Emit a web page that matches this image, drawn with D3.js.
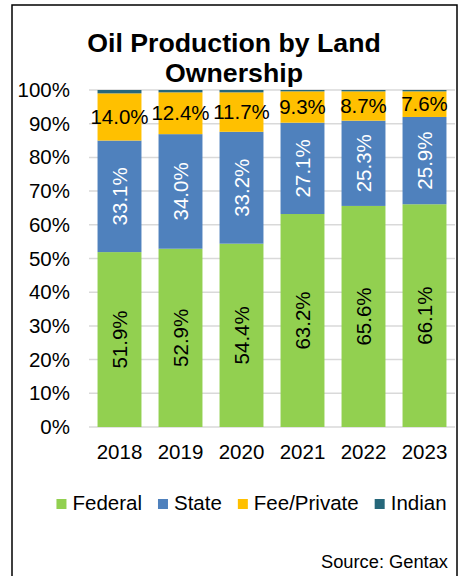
<!DOCTYPE html>
<html><head><meta charset="utf-8">
<script src="https://cdn.jsdelivr.net/npm/d3@7"></script>
<style>body{margin:0;background:#fff}svg{display:block;font-family:"Liberation Sans",Arial,sans-serif}</style>
</head><body><svg id="c" width="461" height="576"></svg>
<script>
const years = ["2018","2019","2020","2021","2022","2023"];
const seriesNames = ["Federal","State","Fee/Private","Indian"];
const federal = [51.9,52.9,54.4,63.2,65.6,66.1];
const state = [33.1,34.0,33.2,27.1,25.3,25.9];
const feePrivate = [14.0,12.4,11.7,9.3,8.7,7.6];
const indian = [1.0,0.7,0.7,0.4,0.4,0.4];
const colors = ["#92D050","#4F81BD","#FFC000","#26677A"];
const yTicks = [0,10,20,30,40,50,60,70,80,90,100];

const svg = d3.select("#c");
// frame
svg.append("rect").attr("x",12).attr("y",5).attr("width",445).attr("height",600)
  .attr("fill","none").attr("stroke","#000").attr("stroke-width",1.5);

svg.append("text").attr("x",234).attr("y",52).attr("text-anchor","middle")
  .attr("font-size",26.7).attr("font-weight","bold").text("Oil Production by Land");
svg.append("text").attr("x",234).attr("y",82).attr("text-anchor","middle")
  .attr("font-size",26.7).attr("font-weight","bold").text("Ownership");

const x = d3.scaleBand().domain(years).range([89,455]).paddingInner(0.28).paddingOuter(0.14);
const y = d3.scaleLinear().domain([0,100]).range([427,90]);

// grid
svg.append("g").selectAll("line").data(yTicks).join("line")
  .attr("x1",89).attr("x2",455).attr("y1",d=>y(d)).attr("y2",d=>y(d))
  .attr("stroke","#D9D9D9").attr("stroke-width",1.5);

// y axis labels
const yAxis = d3.axisLeft(y).tickValues(yTicks).tickFormat(d=>d+"%").tickSize(0).tickPadding(0);
const ya = svg.append("g").attr("transform","translate(70,0)").call(yAxis);
ya.select(".domain").remove();
ya.selectAll("text").attr("font-size",20.5).attr("font-family","Liberation Sans, Arial").attr("fill","#000");

// x axis
const xAxis = d3.axisBottom(x).tickSize(0).tickPadding(0);
const xa = svg.append("g").attr("transform","translate(0,444)").call(xAxis);
xa.select(".domain").remove();
xa.selectAll("text").attr("font-size",20.5).attr("font-family","Liberation Sans, Arial").attr("fill","#000");

const table = years.map((yr,i)=>({year:yr, Federal:federal[i], State:state[i], "Fee/Private":feePrivate[i], Indian:indian[i]}));
const stacked = d3.stack().keys(seriesNames)(table);

const g = svg.append("g");
stacked.forEach((s,si)=>{
  g.append("g").attr("fill",colors[si]).selectAll("rect").data(s).join("rect")
    .attr("x",d=>x(d.data.year)).attr("width",x.bandwidth())
    .attr("y",d=>y(d[1])).attr("height",d=>y(d[0])-y(d[1]));
});

// labels
const fmt = v=>v.toFixed(1)+"%";
[0,1].forEach(si=>{
  svg.append("g").selectAll("text").data(stacked[si]).join("text")
    .attr("transform",d=>`translate(${x(d.data.year)+x.bandwidth()/2},${y((d[0]+d[1])/2)}) rotate(-90)`)
    .attr("text-anchor","middle").attr("dy","0.35em").attr("font-size",20.5)
    .attr("fill", si===0?"#000":"#fff")
    .text(d=>fmt(d[1]-d[0]));
});
svg.append("g").selectAll("text").data(stacked[2]).join("text")
  .attr("x",d=>x(d.data.year)+x.bandwidth()/2).attr("y",d=>y((d[0]+d[1])/2))
  .attr("text-anchor","middle").attr("dy","0.35em").attr("font-size",20.5).attr("fill","#000")
  .text(d=>fmt(d[1]-d[0]));

// legend
const leg = svg.append("g");
let cx = 0; const gap = 16;
seriesNames.forEach((n,i)=>{
  const it = leg.append("g");
  it.append("rect").attr("x",0).attr("y",-11).attr("width",10).attr("height",10).attr("fill",colors[i]);
  const t = it.append("text").attr("x",16).attr("y",0).attr("font-size",20.5).text(n);
  const w = 16 + t.node().getComputedTextLength();
  it.attr("transform",`translate(${cx},0)`);
  cx += w + gap;
});
const total = cx - gap;
leg.attr("transform",`translate(${251.5-total/2},510)`);

svg.append("text").attr("x",448).attr("y",568).attr("text-anchor","end").attr("font-size",18.3).text("Source: Gentax");
</script></body></html>
